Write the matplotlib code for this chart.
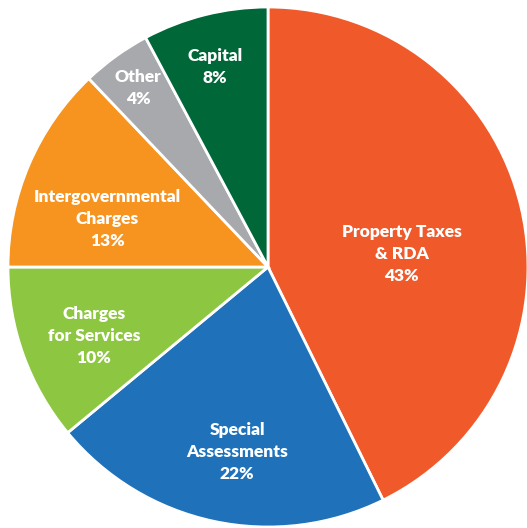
import matplotlib.pyplot as plt

categories = ["Property Taxes\n& RDA", "Special\nAssessments", "Charges\nfor Services",
              "Intergovernmental\nCharges", "Other", "Capital"]
shares = [42.7, 21.3, 11.0, 12.9, 4.3, 7.8]
pct_labels = ["43%", "22%", "10%", "13%", "4%", "8%"]
colors = ["#F05A2B", "#1F72BA", "#8DC641", "#F7941F", "#A8A9AD", "#006838"]

# label spots (data units, pie radius = 1)
label_pos = [(0.515, 0.05), (-0.119, -0.712), (-0.669, -0.265),
             (-0.619, 0.185), (-0.50, 0.688), (-0.204, 0.769)]

fig = plt.figure(figsize=(5.27, 5.28), dpi=100)
ax = fig.add_axes([0, 0, 1, 1])
ax.pie(shares, colors=colors, startangle=90, counterclock=False,
       wedgeprops=dict(edgecolor="white", linewidth=2))
ax.set_xlim(-268 / 260, (527 - 268) / 260)
ax.set_ylim(-261 / 260, (528 - 261) / 260)
ax.set_aspect("equal")
ax.axis("off")

for name, pct, (x, y) in zip(categories, pct_labels, label_pos):
    ax.text(x, y, name + "\n" + pct, ha="center", va="center", color="white",
            fontsize=12.5, fontweight="heavy", family="Lato", linespacing=1.45)

fig.savefig("out.png", dpi=100)
